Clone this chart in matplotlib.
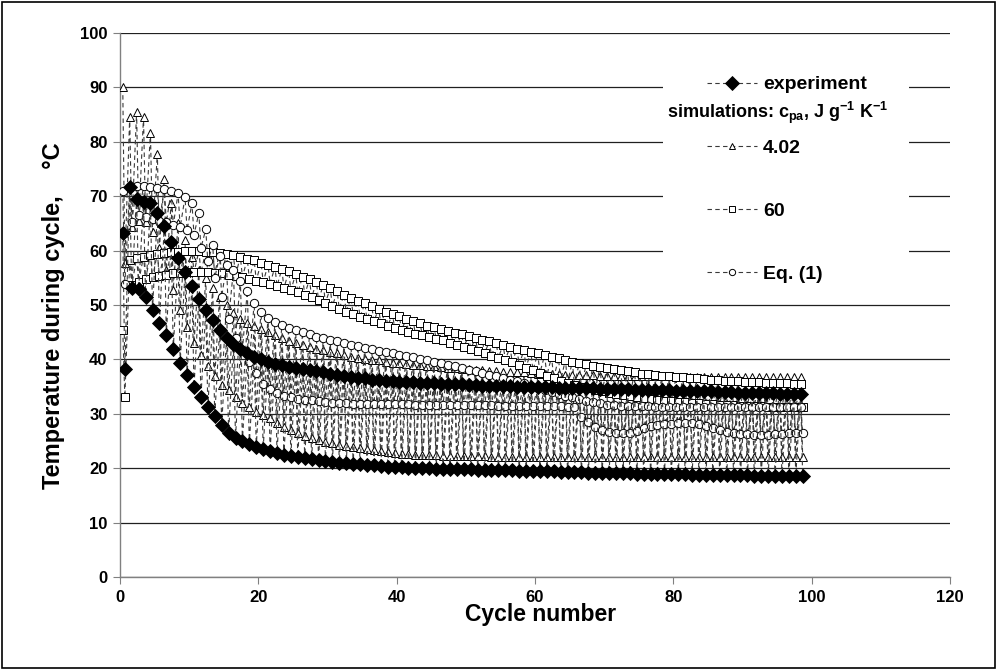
import numpy as np
import matplotlib
matplotlib.use("Agg")
import matplotlib.pyplot as plt
from matplotlib.lines import Line2D
from matplotlib.patches import Rectangle

plt.rcParams['font.family'] = ['Liberation Sans', 'DejaVu Sans']
plt.rcParams['mathtext.fontset'] = 'custom'
plt.rcParams['mathtext.rm'] = 'Liberation Sans:bold'
plt.rcParams['mathtext.bf'] = 'Liberation Sans:bold'
plt.rcParams['mathtext.it'] = 'Liberation Sans:bold'

# cycle numbers
cycles = list(range(1, 100))

# experiment: maximum / minimum temperature of each cycle
exp_max = [63.2, 71.6, 69.5, 69.0, 68.7, 66.9, 64.5, 61.6, 58.7, 56.1,
           53.5, 51.1, 49.1, 47.2, 45.4, 43.9, 42.8, 41.9, 41.1, 40.5,
           40.0, 39.6, 39.2, 38.9, 38.6, 38.4, 38.2, 38.0, 37.8, 37.6,
           37.4, 37.2, 37.0, 36.8, 36.6, 36.5, 36.3, 36.2, 36.1, 36.0,
           35.9, 35.8, 35.8, 35.7, 35.6, 35.6, 35.5, 35.5, 35.4, 35.4,
           35.3, 35.3, 35.2, 35.2, 35.1, 35.1, 35.1, 35.0, 35.0, 35.0,
           34.9, 34.9, 34.9, 34.8, 34.8, 34.8, 34.7, 34.7, 34.7, 34.6,
           34.6, 34.5, 34.5, 34.5, 34.4, 34.4, 34.4, 34.3, 34.3, 34.3,
           34.2, 34.2, 34.2, 34.1, 34.1, 34.1, 34.0, 34.0, 34.0, 33.9,
           33.9, 33.9, 33.8, 33.8, 33.8, 33.7, 33.7, 33.6, 33.6]
exp_min = [38.2, 53.1, 52.9, 51.5, 49.1, 46.6, 44.5, 41.9, 39.4, 37.1,
           35.0, 33.0, 31.3, 29.6, 27.9, 26.5, 25.6, 25.0, 24.4, 23.9,
           23.5, 23.1, 22.8, 22.5, 22.3, 22.1, 21.9, 21.7, 21.5, 21.3,
           21.2, 21.0, 20.9, 20.8, 20.7, 20.6, 20.5, 20.4, 20.3, 20.2,
           20.2, 20.1, 20.1, 20.0, 20.0, 19.9, 19.9, 19.9, 19.8, 19.8,
           19.8, 19.7, 19.7, 19.7, 19.6, 19.6, 19.6, 19.5, 19.5, 19.5,
           19.4, 19.4, 19.4, 19.3, 19.3, 19.3, 19.3, 19.2, 19.2, 19.2,
           19.1, 19.1, 19.1, 19.1, 19.0, 19.0, 19.0, 19.0, 18.9, 18.9,
           18.9, 18.9, 18.8, 18.8, 18.8, 18.8, 18.7, 18.7, 18.7, 18.7,
           18.7, 18.6, 18.6, 18.6, 18.6, 18.6, 18.5, 18.5, 18.5]

# simulation c_pa = 4.02
tri_max = [90.0, 84.5, 85.4, 84.6, 81.7, 77.8, 73.2, 68.8, 65.0, 62.0,
           58.9, 56.4, 54.9, 53.1, 51.5, 50.0, 48.5, 47.5, 46.6, 46.2,
           45.6, 45.0, 44.4, 43.9, 43.4, 43.0, 42.6, 42.3, 42.0, 41.7,
           41.4, 41.1, 40.8, 40.5, 40.3, 40.1, 39.9, 39.8, 39.6, 39.4,
           39.3, 39.2, 39.0, 38.9, 38.8, 38.7, 38.6, 38.5, 38.4, 38.3,
           38.2, 38.1, 38.0, 37.9, 37.8, 37.7, 37.7, 37.6, 37.6, 37.5,
           37.4, 37.4, 37.3, 37.3, 37.2, 37.2, 37.1, 37.1, 37.1, 37.0,
           37.0, 37.0, 37.0, 36.9, 36.9, 36.9, 36.9, 36.9, 36.9, 36.9,
           36.8, 36.8, 36.8, 36.8, 36.8, 36.8, 36.8, 36.8, 36.8, 36.8,
           36.8, 36.8, 36.8, 36.8, 36.8, 36.8, 36.8, 36.8, 36.8]
tri_min = [57.7, 64.4, 65.5, 65.3, 63.5, 60.5, 56.5, 52.8, 49.0, 46.0,
           43.0, 40.8, 38.8, 36.9, 35.3, 34.3, 33.1, 32.0, 31.2, 30.4,
           29.8, 29.2, 28.4, 27.6, 27.0, 26.5, 26.0, 25.6, 25.2, 24.8,
           24.6, 24.3, 24.1, 23.9, 23.7, 23.5, 23.3, 23.1, 22.9, 22.8,
           22.7, 22.6, 22.5, 22.5, 22.4, 22.4, 22.3, 22.3, 22.3, 22.2,
           22.2, 22.2, 22.2, 22.1, 22.1, 22.1, 22.1, 22.1, 22.0, 22.0,
           22.0, 22.0, 22.0, 22.0, 22.0, 22.0, 22.0, 22.0, 22.0, 22.0,
           22.0, 22.0, 22.0, 22.0, 22.0, 22.0, 22.0, 22.0, 22.0, 22.0,
           22.0, 22.0, 22.0, 22.0, 22.0, 22.0, 22.0, 22.0, 22.0, 22.0,
           22.0, 22.0, 22.0, 22.0, 22.0, 22.0, 22.0, 22.0, 22.0]

# simulation c_pa = 60
sq_max = [45.4, 58.2, 58.6, 58.9, 59.2, 59.4, 59.6, 59.7, 59.8, 59.9,
          59.9, 59.9, 59.8, 59.7, 59.5, 59.3, 59.1, 58.9, 58.5, 58.2,
          57.8, 57.4, 57.0, 56.6, 56.2, 55.7, 55.2, 54.7, 54.2, 53.7,
          53.1, 52.5, 51.9, 51.3, 50.8, 50.3, 49.8, 49.3, 48.8, 48.3,
          47.9, 47.5, 47.0, 46.6, 46.2, 45.9, 45.5, 45.2, 44.9, 44.6,
          44.3, 44.0, 43.6, 43.3, 43.0, 42.7, 42.3, 42.0, 41.7, 41.4,
          41.1, 40.8, 40.5, 40.2, 39.9, 39.6, 39.4, 39.1, 38.8, 38.6,
          38.4, 38.2, 38.0, 37.8, 37.6, 37.4, 37.3, 37.1, 37.0, 36.9,
          36.8, 36.7, 36.6, 36.5, 36.4, 36.3, 36.2, 36.1, 36.0, 36.0,
          35.9, 35.8, 35.8, 35.7, 35.7, 35.6, 35.6, 35.5, 35.5]
sq_min = [33.0, 53.7, 54.3, 54.8, 55.1, 55.4, 55.6, 55.8, 55.9, 56.0,
          56.0, 56.0, 56.0, 55.9, 55.8, 55.6, 55.4, 55.1, 54.8, 54.5,
          54.2, 53.9, 53.5, 53.1, 52.7, 52.3, 51.9, 51.4, 50.9, 50.4,
          49.8, 49.3, 48.8, 48.3, 47.8, 47.4, 47.0, 46.6, 46.2, 45.8,
          45.4, 45.0, 44.7, 44.4, 44.1, 43.8, 43.5, 43.1, 42.7, 42.3,
          41.9, 41.5, 41.1, 40.7, 40.3, 39.9, 39.5, 39.0, 38.5, 38.0,
          37.5, 37.0, 36.5, 36.1, 35.7, 35.3, 35.0, 34.7, 34.4, 34.1,
          33.9, 33.6, 33.4, 33.2, 33.0, 32.9, 32.7, 32.6, 32.4, 32.3,
          32.2, 32.1, 32.0, 31.9, 31.8, 31.8, 31.7, 31.6, 31.6, 31.5,
          31.5, 31.4, 31.4, 31.3, 31.3, 31.3, 31.2, 31.2, 31.2]

# simulation Eq. (1)
circ_max = [71.0, 71.7, 71.8, 71.8, 71.7, 71.5, 71.3, 71.0, 70.5, 69.8,
            68.7, 66.9, 63.9, 61.0, 59.0, 57.4, 56.4, 54.5, 52.6, 50.4,
            48.8, 47.6, 46.8, 46.3, 45.8, 45.4, 45.0, 44.6, 44.2, 43.9,
            43.6, 43.3, 43.0, 42.7, 42.4, 42.1, 41.9, 41.6, 41.4, 41.2,
            40.9, 40.7, 40.4, 40.1, 39.9, 39.6, 39.3, 39.0, 38.7, 38.4,
            38.1, 37.8, 37.5, 37.2, 36.9, 36.6, 36.3, 36.0, 35.6, 35.2,
            34.8, 34.4, 34.0, 33.6, 33.3, 33.0, 32.7, 32.4, 32.1, 31.9,
            31.7, 31.6, 31.5, 31.5, 31.4, 31.4, 31.4, 31.3, 31.3, 31.3,
            31.3, 31.3, 31.3, 31.3, 31.3, 31.3, 31.3, 31.3, 31.3, 31.3,
            31.3, 31.3, 31.3, 31.3, 31.3, 31.3, 31.3, 31.3, 31.3]
circ_min = [53.8, 65.3, 66.5, 66.2, 65.8, 65.5, 65.2, 64.7, 64.3, 63.8,
            62.9, 60.5, 58.0, 55.0, 51.5, 47.5, 44.0, 41.7, 39.5, 37.5,
            35.5, 34.5, 33.8, 33.3, 33.0, 32.8, 32.6, 32.5, 32.3, 32.1,
            32.0, 31.9, 31.9, 31.8, 31.8, 31.8, 31.8, 31.8, 31.8, 31.8,
            31.8, 31.8, 31.7, 31.7, 31.7, 31.7, 31.7, 31.7, 31.6, 31.6,
            31.6, 31.6, 31.6, 31.6, 31.5, 31.5, 31.5, 31.5, 31.5, 31.5,
            31.4, 31.4, 31.4, 31.4, 31.3, 31.3, 29.5, 28.5, 27.5, 27.0,
            26.7, 26.5, 26.4, 26.4, 26.8, 27.3, 27.7, 27.9, 28.1, 28.2,
            28.3, 28.3, 28.3, 28.1, 27.8, 27.4, 27.0, 26.7, 26.5, 26.3,
            26.2, 26.1, 26.1, 26.1, 26.2, 26.3, 26.4, 26.4, 26.4]

labels = ['experiment', '4.02', '60', 'Eq. (1)']
y_ticks = list(range(0, 101, 10))
x_ticks = list(range(0, 121, 20))


def zigzag(mx, mn):
    c = np.array(cycles, dtype=float)
    xs = np.empty(2 * len(c))
    ys = np.empty(2 * len(c))
    xs[0::2] = c - 0.6
    xs[1::2] = c - 0.3
    ys[0::2] = mx
    ys[1::2] = mn
    return xs, ys


fig = plt.figure(figsize=(9.97, 6.70), dpi=100)
ax = fig.add_axes([120 / 997, 1 - 577 / 670, 830 / 997, 544 / 670])

line_kw = dict(color='#3a3a3a', lw=0.8, dashes=(4, 3))
styles = [
    dict(marker='D', ms=7.5, mfc='black', mec='black', mew=0.6, zorder=6),
    dict(marker='^', ms=6.0, mfc='white', mec='black', mew=0.7, zorder=4),
    dict(marker='s', ms=5.5, mfc='white', mec='black', mew=0.7, zorder=4),
    dict(marker='o', ms=6.0, mfc='white', mec='black', mew=0.7, zorder=4),
]
series = [(exp_max, exp_min), (tri_max, tri_min), (sq_max, sq_min), (circ_max, circ_min)]

for (mx, mn), st in zip(series, styles):
    xs, ys = zigzag(mx, mn)
    ax.plot(xs, ys, **line_kw, **st)

ax.set_xlim(0, 120)
ax.set_ylim(0, 100)
ax.set_xticks(x_ticks)
ax.set_yticks(y_ticks)
ax.yaxis.grid(True, color='#202020', lw=0.9)
ax.set_axisbelow(True)
for s in ['top', 'right']:
    ax.spines[s].set_visible(False)
for s in ['left', 'bottom']:
    ax.spines[s].set_color('#808080')
    ax.spines[s].set_linewidth(1.0)
ax.tick_params(axis='both', direction='out', length=5, color='#808080',
               labelsize=12, pad=4)
for lab in ax.get_xticklabels() + ax.get_yticklabels():
    lab.set_fontweight('bold')

ax.set_xlabel('Cycle number', fontsize=16.5, fontweight='bold')
ax.xaxis.set_label_coords((541 - 120) / 830, -(603 - 577) / 544)
ax.set_ylabel('Temperature during cycle,    \u00b0C', fontsize=17,
              fontweight='bold')
ax.yaxis.set_label_coords((65 - 120) / 830, (577 - 316) / 544)

# legend background (covers gridlines)
ax.add_patch(Rectangle((78.5, 52.8), 35.5, 42.0, facecolor='white',
                       edgecolor='none', zorder=2.5))

handles = []
for st in styles:
    h = Line2D([], [], **line_kw, **{k: v for k, v in st.items() if k != 'zorder'})
    handles.append(h)
blank = Line2D([], [], color='none')
leg_handles = [handles[0], blank, handles[1], blank, handles[2], blank, handles[3]]
leg_labels = [labels[0], ' ', labels[1], ' ', labels[2], ' ', labels[3]]
for h in handles[1:]:
    h.set_markersize(4.5)
handles[0].set_markersize(7.0)
leg = ax.legend(leg_handles, leg_labels, loc='upper left',
                bbox_to_anchor=((699 - 120) / 830, (577 - 68) / 544),
                frameon=False, handlelength=2.6, handletextpad=0.3,
                labelspacing=0.72, prop=dict(weight='bold', size=14),
                borderaxespad=0)
leg.set_zorder(7)
ax.text(778, 670 - 113, r'simulations: c$_{\mathbf{pa}}$, J g$^{\mathbf{-1}}$ K$^{\mathbf{-1}}$',
        transform=None, fontsize=13, fontweight='bold', ha='center', va='center',
        zorder=8)

fig.patches.append(Rectangle((0.002, 0.003), 0.996, 0.994, transform=fig.transFigure,
                             fill=False, edgecolor='black', lw=1.2))

fig.savefig('out.png', dpi=100)
